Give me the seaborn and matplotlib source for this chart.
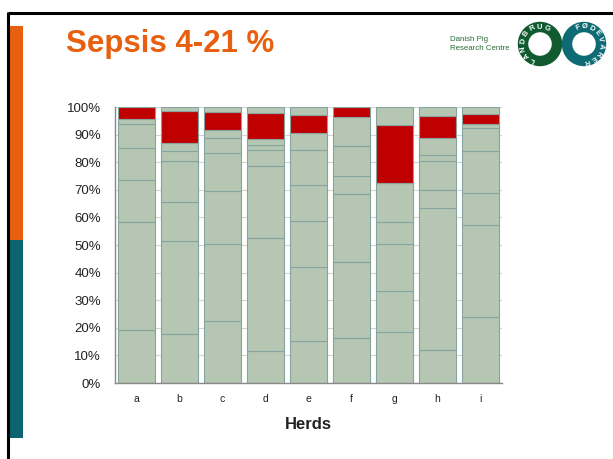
import numpy as np
import pandas as pd
import seaborn as sns
import matplotlib.pyplot as plt
from matplotlib.patches import Rectangle, Circle
from matplotlib.ticker import MultipleLocator, FuncFormatter

# Herds and the share (%) of each finding, stacked from bottom to top
herds = ['a', 'b', 'c', 'd', 'e', 'f', 'g', 'h', 'i']
cat1 = [19.2, 17.7, 22.5, 11.5, 15.1, 16.2, 18.4, 11.8, 23.8]
cat2 = [39.0, 33.6, 27.8, 40.9, 26.8, 27.5, 14.8, 51.5, 33.3]
cat3 = [15.3, 14.2, 19.1, 26.1, 16.8, 24.8, 17.0, 6.8, 11.6]
cat4 = [11.5, 15.0, 13.8, 5.8, 12.9, 6.5, 8.0, 10.5, 15.2]
cat5 = [9.0, 3.6, 5.6, 1.9, 12.8, 10.9, 14.4, 1.9, 8.5]
cat6 = [1.7, 3.0, 2.9, 2.3, 6.2, 10.5, 0.0, 6.3, 1.3]
sepsis = [4.3, 11.5, 6.4, 9.2, 6.6, 3.6, 20.9, 7.8, 3.8]
other = [0.0, 1.4, 1.9, 2.3, 2.8, 0.0, 6.5, 3.4, 2.5]

series = {'cat1': cat1, 'cat2': cat2, 'cat3': cat3, 'cat4': cat4,
          'cat5': cat5, 'cat6': cat6, 'Sepsis': sepsis, 'other': other}

rows = []
for name, vals in series.items():
    for herd, v in zip(herds, vals):
        rows.append({'Herd': herd, 'Group': name, 'Pct': v})
df = pd.DataFrame(rows)

green = '#b5c7b2'
red = '#c00000'
palette = {k: green for k in series}
palette['Sepsis'] = red
# histplot stacks the last hue level at the bottom
hue_order = list(series.keys())[::-1]

sns.set_style('white')
plt.rcParams['font.family'] = ['Liberation Sans', 'DejaVu Sans']

fig = plt.figure(figsize=(6.13, 4.59), dpi=100)

# slide background in pixel coordinates
bg = fig.add_axes([0, 0, 1, 1], zorder=0)
bg.set_xlim(0, 613)
bg.set_ylim(459, 0)
bg.axis('off')
bg.plot([8, 613], [13, 13], color='black', lw=2.2, solid_capstyle='butt')
bg.plot([8, 8], [12, 459], color='black', lw=2.2, solid_capstyle='butt')
bg.add_patch(Rectangle((10, 26), 13, 214, color='#e8600f', lw=0))
bg.add_patch(Rectangle((10, 240), 13, 198, color='#0b6470', lw=0))
bg.text(66, 52, 'Sepsis 4-21 %', color='#e8600f', fontsize=22.5,
        fontweight='bold', va='baseline', ha='left')
bg.text(450, 41, 'Danish Pig', color='#2a6e3a', fontsize=5.7, va='baseline')
bg.text(450, 50, 'Research Centre', color='#2a6e3a', fontsize=5.7, va='baseline')

# logo rings
for cx, col, letters, angles in [
        (540, '#0f5a2e', 'LANDBRUG', [245, 220, 195, 170, 143, 117, 92, 67]),
        (584, '#0e6a73', 'FØDEVARER', [112, 88, 64, 40, 16, -8, -32, -56, -80])]:
    bg.add_patch(Circle((cx, 44), 17, fill=False, ec=col, lw=7.5))
    for ch, a in zip(letters, angles):
        r = np.radians(a)
        bg.text(cx + 17 * np.cos(r), 44 - 17 * np.sin(r), ch, color='white',
                fontsize=5.5, fontweight='bold', ha='center', va='center',
                rotation=a - 90)

ax = fig.add_axes([115 / 613, 76 / 459, 387 / 613, 276 / 459], zorder=1)
ax.set_facecolor('none')
sns.histplot(data=df, x='Herd', weights='Pct', hue='Group', hue_order=hue_order,
             palette=palette, multiple='stack', discrete=True, shrink=0.84,
             alpha=1, edgecolor='#86a3a0', linewidth=0.8, legend=False, ax=ax)

ax.set_ylim(0, 100)
ax.set_xlim(-0.5, 8.5)
ax.yaxis.set_major_locator(MultipleLocator(10))
ax.yaxis.set_major_formatter(FuncFormatter(lambda v, p: f'{v:.0f}%'))
ax.grid(axis='y', color='#d4d4d4', lw=0.8)
ax.set_axisbelow(True)
ax.set_xticks(range(len(herds)))
ax.set_xticklabels(herds)
ax.set_xticks(np.arange(-0.5, 9), minor=True)
ax.tick_params(axis='x', which='major', length=0, labelsize=7.5, pad=8, colors='#222222')
ax.tick_params(axis='x', which='minor', length=3, color='#999999')
ax.tick_params(axis='y', length=4, color='#999999', labelsize=9.5, labelcolor='#222222', pad=6)
for s in ['top', 'right']:
    ax.spines[s].set_visible(False)
for s in ['left', 'bottom']:
    ax.spines[s].set_color('#888888')
    ax.spines[s].set_linewidth(1)
ax.set_ylabel('')
ax.set_xlabel('Herds', fontsize=12, fontweight='bold', color='#222222', labelpad=9)

fig.savefig('out.png', dpi=100)
